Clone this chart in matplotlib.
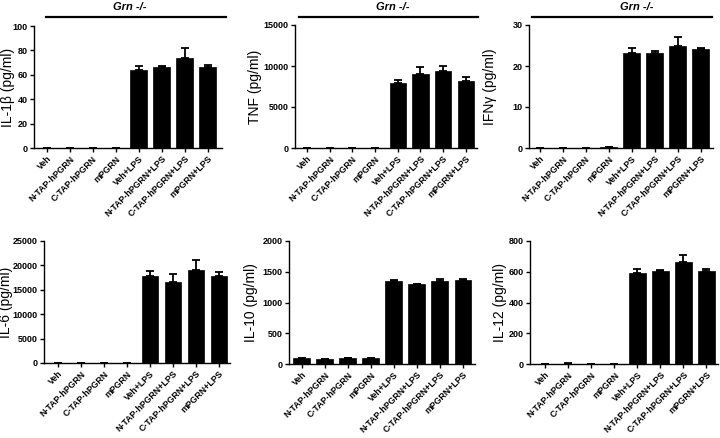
import matplotlib
matplotlib.use("Agg")
import matplotlib.pyplot as plt
import numpy as np

plt.rcParams['font.family'] = ['Liberation Sans', 'DejaVu Sans']

categories = ["Veh", "N-TAP-hPGRN", "C-TAP-hPGRN", "mPGRN",
              "Veh+LPS", "N-TAP-hPGRN+LPS", "C-TAP-hPGRN+LPS", "mPGRN+LPS"]

il1b_mean = [0, 0, 0, 0, 64, 66.5, 74, 66.5]
il1b_err = [0, 0, 0, 0, 3.5, 0.6, 7.6, 1.8]
tnf_mean = [0, 0, 0, 0, 7900, 9050, 9400, 8230]
tnf_err = [0, 0, 0, 0, 370, 800, 580, 400]
ifng_mean = [0.03, 0.1, 0.1, 0.15, 23.1, 23.1, 25.0, 24.2]
ifng_err = [0, 0, 0, 0, 1.4, 0.6, 2.1, 0.3]
il6_mean = [0, 0, 0, 0, 17900, 16650, 19050, 17850]
il6_err = [0, 0, 0, 0, 950, 1550, 2050, 900]
il10_mean = [100, 88, 98, 98, 1350, 1295, 1350, 1372]
il10_err = [0, 0, 0, 0, 12, 12, 40, 10]
il12_mean = [0, 2, 0, 0, 595, 608, 662, 605]
il12_err = [0, 3, 0, 0, 23, 6, 48, 13]

ylabels = ["IL-1\u03b2 (pg/ml)", "TNF (pg/ml)", "IFN\u03b3 (pg/ml)",
           "IL-6 (pg/ml)", "IL-10 (pg/ml)", "IL-12 (pg/ml)"]
yticks = [[0, 20, 40, 60, 80, 100], [0, 5000, 10000, 15000], [0, 10, 20, 30],
          [0, 5000, 10000, 15000, 20000, 25000], [0, 500, 1000, 1500, 2000],
          [0, 200, 400, 600, 800]]
header = "Grn -/-"

W, H = 720, 438
fig = plt.figure(figsize=(7.2, 4.38), dpi=100)

# panel boxes in pixels: left, right, top, bottom ; xlim ; ylabel right edge px
boxes = [(34, 222, 26, 148, (-0.55, 7.62), 15.5),
         (295, 477, 25, 148, (-0.53, 7.49), 262),
         (529, 713, 25, 148, (-0.46, 7.54), 497),
         (44, 230, 241, 363, (-0.61, 7.48), 13.5),
         (289, 475, 241, 364, (-0.55, 7.53), 258),
         (530, 718, 241, 364, (-0.67, 7.5), 507)]

data = [(il1b_mean, il1b_err), (tnf_mean, tnf_err), (ifng_mean, ifng_err),
        (il6_mean, il6_err), (il10_mean, il10_err), (il12_mean, il12_err)]

x = np.arange(len(categories))
for i, ((l, r, t, b, xl, lx), (m, e)) in enumerate(zip(boxes, data)):
    ax = fig.add_axes([l / W, 1 - b / H, (r - l) / W, (b - t) / H])
    ax.bar(x, m, width=0.72, color='black', edgecolor='black', linewidth=0.5, zorder=2)
    ax.errorbar(x, m, yerr=[np.zeros(len(e)), e], fmt='none', ecolor='black',
                elinewidth=1.3, capsize=3.2, capthick=1.3, zorder=3)
    ax.set_xlim(*xl)
    ax.set_ylim(yticks[i][0], yticks[i][-1])
    ax.set_yticks(yticks[i])
    ax.set_yticklabels([str(v) for v in yticks[i]], fontsize=6.5, fontweight='bold')
    ax.set_xticks(x)
    ax.set_xticklabels(categories, rotation=45, ha='right', rotation_mode='anchor',
                       fontsize=6.3, fontweight='bold')
    for s in ['top', 'right']:
        ax.spines[s].set_visible(False)
    for s in ['left', 'bottom']:
        ax.spines[s].set_linewidth(1.0)
    ax.tick_params(axis='both', direction='out', length=3, width=1.0, pad=1.5)
    ax.set_ylabel(ylabels[i], fontsize=10)
    ax.yaxis.set_label_coords((lx - l) / (r - l), 0.5)

# Grn -/- headers (top row)
headers = [(46, 226, 130), (299, 478, 393), (532, 712, 637)]
for x0, x1, tx in headers:
    fig.add_artist(plt.Line2D([x0 / W, x1 / W], [1 - 17 / H, 1 - 17 / H],
                              color='black', linewidth=1.6))
    fig.text(tx / W, 1 - 7.5 / H, header, ha='center', va='center',
             fontsize=8, fontweight='bold', fontstyle='italic')

fig.savefig("out.png", dpi=100)
